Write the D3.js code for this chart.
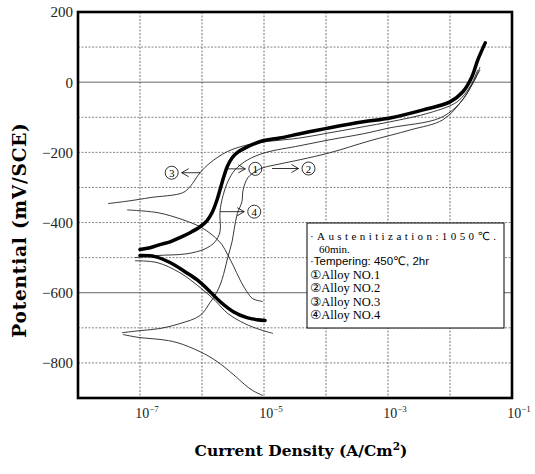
<!DOCTYPE html>
<html>
<head>
<meta charset="utf-8">
<script src="https://cdn.jsdelivr.net/npm/d3@7"></script>
<style>
  body { margin: 0; background: #fff; }
</style>
</head>
<body>
<svg id="chart" width="535" height="474"></svg>
<script>
// axis ticks
const currentTicks = [1e-7, 1e-5, 1e-3, 1e-1];
const currentExponents = ['-7', '-5', '-3', '-1'];
const potentialTicks = [200, 0, -200, -400, -600, -800];
const gridCurrents = [1e-7, 1e-6, 1e-5, 1e-4, 1e-3, 1e-2];
const gridPotentials = [100, 0, -100, -200, -300, -400, -500, -600, -700, -800];
const solidPotentials = [0, -600];

// polarization curves, [current density (A/cm2), potential (mV)]
const alloy1Anodic = [
  [1.0e-7, -477], [1.45e-7, -472], [2.1e-7, -463], [3.05e-7, -455], [4.4e-7, -443],
  [6.4e-7, -429], [9.3e-7, -412], [1.2e-6, -395], [1.45e-6, -372], [1.75e-6, -335],
  [2.1e-6, -287], [2.55e-6, -241], [3.05e-6, -216], [3.7e-6, -201], [5.9e-6, -181],
  [9.6e-6, -167], [1.8e-5, -159], [3.8e-5, -147], [1.16e-4, -130], [4.0e-4, -113],
  [1.08e-3, -102], [3.7e-3, -79], [1.0e-2, -56], [1.6e-2, -28], [2.25e-2, 15],
  [2.8e-2, 63], [3.7e-2, 112]
];
const alloy1Cathodic = [
  [1.0e-7, -494], [1.75e-7, -497], [3.05e-7, -514], [5.3e-7, -540], [8.3e-7, -563],
  [1.35e-6, -597], [1.95e-6, -625], [3.2e-6, -654], [5.3e-6, -671], [7.7e-6, -677],
  [1.04e-5, -679]
];
const alloy2Anodic = [
  [5.1e-8, -714], [1.0e-7, -708], [2.1e-7, -702], [4.4e-7, -688], [9.3e-7, -665],
  [1.35e-6, -628], [1.75e-6, -597], [2.1e-6, -563], [2.6e-6, -500], [3.05e-6, -455],
  [3.3e-6, -420], [3.7e-6, -375], [4.4e-6, -341], [4.6e-6, -307], [5.5e-6, -272],
  [7.2e-6, -255], [9.6e-6, -244], [1.8e-5, -233], [3.8e-5, -221], [1.16e-4, -201],
  [5.1e-4, -167], [2.3e-3, -136], [7.7e-3, -107], [1.6e-2, -50], [2.25e-2, -8],
  [3.05e-2, 35]
];
const alloy2Cathodic = [
  [5.3e-8, -719], [1.0e-7, -728], [2.1e-7, -733], [3.95e-7, -742], [9.3e-7, -768],
  [1.75e-6, -796], [3.2e-6, -833], [4.9e-6, -862], [6.6e-6, -879], [9.6e-6, -893]
];
const alloy3Anodic = [
  [3.05e-8, -346], [6.9e-8, -338], [1.45e-7, -329], [4.9e-7, -315], [6.4e-7, -298],
  [9.3e-7, -258], [1.35e-6, -230], [2.55e-6, -198], [5.3e-6, -179], [1.04e-5, -170],
  [3.8e-5, -159], [1.16e-4, -144], [4.0e-4, -127], [1.08e-3, -113], [4.75e-3, -87],
  [1.3e-2, -56], [2.1e-2, -13], [2.8e-2, 35]
];
const alloy3Cathodic = [
  [6.2e-8, -364], [1.95e-7, -372], [4.9e-7, -392], [9.3e-7, -412], [1.5e-6, -437],
  [2.1e-6, -463], [2.6e-6, -492], [3.2e-6, -523], [4.1e-6, -563], [5.3e-6, -597],
  [6.6e-6, -617], [9.6e-6, -625]
];
const alloy4Anodic = [
  [8.3e-8, -500], [1.88e-7, -494], [5.7e-7, -489], [1.12e-6, -475], [1.62e-6, -455],
  [1.95e-6, -426], [1.95e-6, -369], [2.2e-6, -321], [2.6e-6, -284], [3.4e-6, -250],
  [5.5e-6, -221], [1.04e-5, -201], [3.8e-5, -181], [1.16e-4, -164], [4.0e-4, -147],
  [1.08e-3, -130], [6.9e-3, -102], [1.45e-2, -59], [2.35e-2, -2], [3.05e-2, 43]
];
const alloy4Cathodic = [
  [8.3e-8, -509], [1.88e-7, -514], [4.4e-7, -543], [9.3e-7, -585], [1.62e-6, -622],
  [2.6e-6, -659], [4.9e-6, -688], [8.6e-6, -705], [1.4e-5, -716]
];

// curve callouts: arrow from curve to circled number
const callouts = [
  { from: 2.5e-6, to: 5.0e-6, e: -247, label: '1', side: 'right' },
  { from: 1.35e-5, to: 3.6e-5, e: -246, label: '2', side: 'right' },
  { from: 9.5e-7, to: 4.7e-7, e: -258, label: '3', side: 'left' },
  { from: 1.95e-6, to: 4.8e-6, e: -369, label: '4', side: 'right' }
];

const legendLines = [
  '·Austenitization:1050℃.',
  '60min.',
  '·Tempering: 450℃, 2hr',
  '①Alloy NO.1',
  '②Alloy NO.2',
  '③Alloy NO.3',
  '④Alloy NO.4'
];

const svg = d3.select('#chart');
const plotLeft = 78, plotRight = 512, plotTop = 12, plotBottom = 398;

const x = d3.scaleLog().domain([1e-8, 1e-1]).range([plotLeft, plotRight]);
const y = d3.scaleLinear().domain([-900, 200]).range([plotBottom, plotTop]);

// grid
svg.append('g')
  .selectAll('line')
  .data(gridCurrents)
  .join('line')
  .attr('x1', d => x(d)).attr('x2', d => x(d))
  .attr('y1', plotTop).attr('y2', plotBottom)
  .attr('stroke', '#666')
  .attr('stroke-width', 0.9)
  .attr('stroke-dasharray', '2,1.5');

svg.append('g')
  .selectAll('line')
  .data(gridPotentials)
  .join('line')
  .attr('x1', plotLeft).attr('x2', plotRight)
  .attr('y1', d => y(d)).attr('y2', d => y(d))
  .attr('stroke', d => solidPotentials.includes(d) ? '#555' : '#777')
  .attr('stroke-width', 0.9)
  .attr('stroke-dasharray', d => solidPotentials.includes(d) ? null : '2,1.5');

// curves
const line = d3.line()
  .x(d => x(d[0]))
  .y(d => y(d[1]))
  .curve(d3.curveCatmullRom.alpha(0.5));

const thin = [alloy2Anodic, alloy2Cathodic, alloy3Anodic, alloy3Cathodic, alloy4Anodic, alloy4Cathodic];
svg.append('g')
  .selectAll('path')
  .data(thin)
  .join('path')
  .attr('d', line)
  .attr('fill', 'none')
  .attr('stroke', '#222')
  .attr('stroke-width', 0.9);

svg.append('g')
  .selectAll('path')
  .data([alloy1Anodic, alloy1Cathodic])
  .join('path')
  .attr('d', line)
  .attr('fill', 'none')
  .attr('stroke', '#000')
  .attr('stroke-width', 3.5)
  .attr('stroke-linecap', 'round');

// callouts with circled numbers
const co = svg.append('g').attr('stroke', '#000').attr('fill', 'none').attr('stroke-width', 0.8);
callouts.forEach(c => {
  const x0 = x(c.from), x1 = x(c.to), yy = y(c.e);
  co.append('line').attr('x1', x0).attr('x2', x1).attr('y1', yy).attr('y2', yy);
  const dir = c.side === 'right' ? 1 : -1;
  co.append('path')
    .attr('d', `M${x1 - dir * 7},${yy - 4}L${x1},${yy}L${x1 - dir * 7},${yy + 4}`);
  const cx = x1 + dir * 10;
  co.append('circle').attr('cx', cx).attr('cy', yy).attr('r', 6.5);
  svg.append('text')
    .attr('x', cx).attr('y', yy + 4)
    .attr('text-anchor', 'middle')
    .attr('font-family', 'Liberation Serif')
    .attr('font-size', 11)
    .text(c.label);
});

// legend box
const lg = svg.append('g');
lg.append('rect')
  .attr('x', 307).attr('y', 223).attr('width', 197).attr('height', 105)
  .attr('fill', '#fff').attr('stroke', '#000').attr('stroke-width', 1);
lg.selectAll('text')
  .data(legendLines)
  .join('text')
  .attr('x', (d, i) => i === 1 ? 319 : 310)
  .attr('y', (d, i) => i < 3 ? [239.5, 252.5, 265][i] : 279 + (i - 3) * 13.4)
  .attr('font-family', (d, i) => i === 2 ? 'Liberation Sans, DejaVu Sans' : 'Liberation Serif, DejaVu Sans')
  .attr('font-size', (d, i) => i < 2 ? 11 : i === 2 ? 11.5 : 12.5)
  .attr('textLength', (d, i) => i === 0 ? 186 : null)
  .attr('lengthAdjust', 'spacing')
  .text(d => d);

// frame
svg.append('rect')
  .attr('x', plotLeft).attr('y', plotTop)
  .attr('width', plotRight - plotLeft).attr('height', plotBottom - plotTop)
  .attr('fill', 'none').attr('stroke', '#000').attr('stroke-width', 2.6);

// y tick labels
svg.append('g')
  .selectAll('text')
  .data(potentialTicks)
  .join('text')
  .attr('x', 73)
  .attr('y', d => y(d))
  .attr('dy', '0.36em')
  .attr('text-anchor', 'end')
  .attr('font-family', 'Liberation Serif')
  .attr('font-size', 15)
  .attr('fill', '#222')
  .text(d => d < 0 ? '−' + Math.abs(d) : d);

// x tick labels
const xt = svg.append('g')
  .selectAll('text')
  .data(currentTicks)
  .join('text')
  .attr('x', d => x(d) + 7)
  .attr('y', 418)
  .attr('text-anchor', 'middle')
  .attr('font-family', 'Liberation Serif')
  .attr('font-size', 14)
  .attr('fill', '#222');
xt.append('tspan').text('10');
xt.append('tspan')
  .attr('dy', -6)
  .attr('font-size', 9)
  .text((d, i) => currentExponents[i].replace('-', '−'));

// axis titles
const xTitle = svg.append('text')
  .attr('x', 301).attr('y', 456)
  .attr('text-anchor', 'middle')
  .attr('font-family', 'DejaVu Serif')
  .attr('font-weight', 'bold')
  .attr('font-size', 15.5);
xTitle.append('tspan').text('Current Density (A/Cm');
xTitle.append('tspan').attr('dy', -6).attr('font-size', 10.5).text('2');
xTitle.append('tspan').attr('dy', 6).text(')');

svg.append('text')
  .attr('transform', 'translate(26,230) rotate(-90)')
  .attr('text-anchor', 'middle')
  .attr('font-family', 'DejaVu Serif')
  .attr('font-weight', 'bold')
  .attr('font-size', 18.5)
  .attr('letter-spacing', 0.8)
  .text('Potential (mV/SCE)');
</script>
</body>
</html>
